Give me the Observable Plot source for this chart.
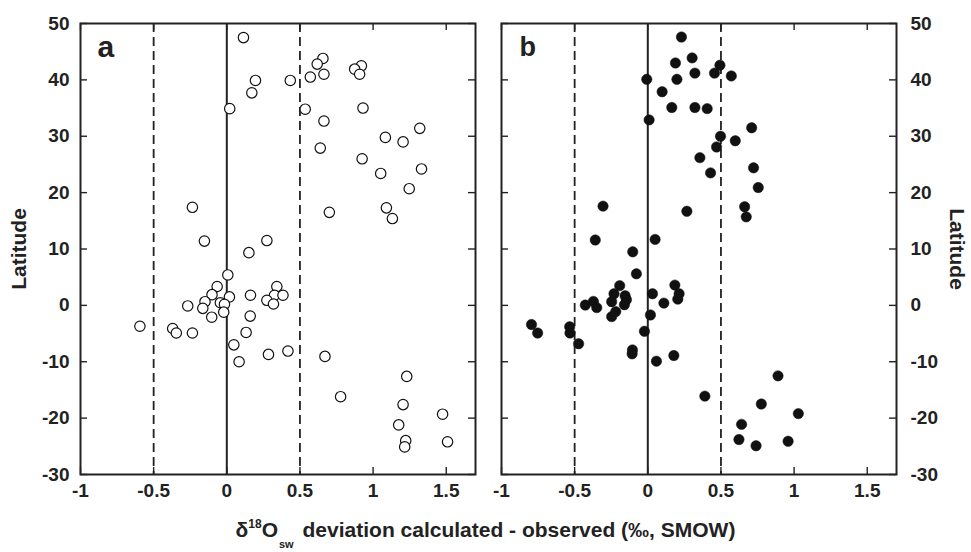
<!DOCTYPE html>
<html>
<head>
<meta charset="utf-8">
<script src="https://cdn.jsdelivr.net/npm/d3@7"></script>
<script src="https://cdn.jsdelivr.net/npm/@observablehq/plot@0.6"></script>
<style>
  body { margin: 0; background: #fff; }
  #wrap { position: relative; width: 971px; height: 552px; font-family: "Liberation Sans", Arial, sans-serif; color: #222; overflow: hidden; }
  #pa { position: absolute; left: 0; top: 0; }
  #pb { position: absolute; left: 485px; top: 0; }
  #xt { position: absolute; left: 0; width: 971px; top: 518px; text-align: center; font-weight: bold; font-size: 21px; line-height: 24px; white-space: nowrap; }
  #xt sup { font-size: 12px; vertical-align: 9px; line-height: 0; }
  #xt sub { font-size: 11px; vertical-align: -11px; line-height: 0; margin-left: 1px; margin-right: 3px; }
</style>
</head>
<body>
<div id="wrap">
  <div id="pa"></div>
  <div id="pb"></div>
  <div id="xt">δ<sup>18</sup>O<sub>sw</sub> deviation calculated - observed (‰, SMOW)</div>
</div>
<script>
// Tick values
const xTicks = [-1, -0.5, 0, 0.5, 1, 1.5];
const yTicks = [-30, -20, -10, 0, 10, 20, 30, 40, 50];
const refSolid = [0];
const refDashed = [-0.5, 0.5];

// Panel a (open circles): deviation (‰) and latitude
const aX = [0.114, 0.657, 0.618, 0.92, 0.874, 0.908, 0.664, 0.571, 0.196, 0.434,
  0.171, 0.02, 0.536, 0.931, 0.664, 1.319, 1.084, 1.205, 0.639, 0.925,
  1.331, 1.052, 1.247, 1.091, 0.701, 1.132, -0.235, -0.153, 0.274, 0.151,
  0.007, -0.066, 0.342, -0.101, 0.018, 0.162, 0.326, 0.384, 0.274, 0.319,
  -0.149, -0.044, -0.016, -0.267, -0.164, -0.021, -0.103, 0.16, -0.594, -0.37,
  -0.345, -0.235, 0.132, 0.048, 0.084, 0.285, 0.418, 0.671, 1.23, 0.778,
  1.205, 1.475, 1.175, 1.223, 1.509, 1.216];
const aY = [47.5, 43.8, 42.8, 42.5, 41.9, 41.0, 41.0, 40.5, 39.9, 39.9,
  37.7, 34.9, 34.8, 35.0, 32.7, 31.4, 29.8, 29.0, 27.9, 26.0,
  24.2, 23.4, 20.7, 17.3, 16.5, 15.4, 17.4, 11.4, 11.5, 9.35,
  5.4, 3.35, 3.35, 1.9, 1.5, 1.8, 1.8, 1.8, 0.9, 0.24,
  0.65, 0.47, 0.18, -0.1, -0.53, -1.2, -2.1, -1.9, -3.7, -4.1,
  -4.9, -4.9, -4.8, -7.0, -10.0, -8.7, -8.1, -9.05, -12.6, -16.2,
  -17.6, -19.3, -21.2, -24.0, -24.2, -25.1];

// Panel b (filled circles)
const bX = [0.23, 0.303, 0.189, 0.493, 0.322, 0.456, 0.571, -0.007, 0.199, 0.098,
  0.164, 0.322, 0.406, 0.009, 0.71, 0.497, 0.598, 0.47, 0.356, 0.723,
  0.429, 0.755, -0.306, 0.267, 0.662, 0.673, -0.359, 0.05, -0.103, -0.078,
  -0.192, 0.185, -0.231, -0.155, 0.032, 0.214, 0.205, -0.146, -0.372, -0.247,
  0.11, -0.427, -0.16, -0.349, -0.219, 0.018, -0.247, -0.795, -0.753, -0.534,
  -0.532, -0.473, -0.023, -0.105, -0.107, 0.059, 0.178, 0.89, 0.39, 0.776,
  1.029, 0.641, 0.623, 0.959, 0.74];
const bY = [47.6, 43.9, 43.0, 42.6, 41.2, 41.2, 40.7, 40.1, 40.1, 37.9,
  35.1, 35.1, 34.9, 32.9, 31.5, 30.0, 29.2, 28.1, 26.2, 24.4,
  23.5, 20.9, 17.6, 16.7, 17.5, 15.7, 11.6, 11.7, 9.5, 5.6,
  3.5, 3.6, 2.06, 1.7, 2.06, 2.06, 1.1, 1.0, 0.7, 0.65,
  0.4, 0.06, 0.12, -0.4, -1.1, -1.7, -2.0, -3.4, -4.9, -3.8,
  -4.9, -6.8, -4.6, -7.9, -8.6, -9.9, -8.9, -12.5, -16.1, -17.5,
  -19.2, -21.1, -23.8, -24.1, -24.9];

const INK = "#222";
const H = 500, MT = 23, MB = 26;
const font = { fontFamily: "'Liberation Sans', Arial, sans-serif", fontSize: "19px", fontWeight: "bold", background: "transparent", overflow: "visible", color: INK };

function panel({ xs, ys, filled, width, mL, mR, side, letter, letterSize, letterDx, letterDy, latDx }) {
  const pw = width - mL - mR, ph = H - MT - MB, tl = 7;
  const pts = xs.map((x, i) => ({ x, y: ys[i] }));
  return Plot.plot({
    width, height: H, marginLeft: mL, marginRight: mR, marginTop: MT, marginBottom: MB,
    style: font,
    x: { domain: [-1, 1.7] },
    y: { domain: [-30, 50] },
    marks: [
      Plot.ruleX(refDashed, { x: d => d, stroke: INK, strokeWidth: 1.8, strokeDasharray: "9,5" }),
      Plot.ruleX(refSolid, { x: d => d, stroke: INK, strokeWidth: 2 }),
      // inward ticks
      Plot.tickY(yTicks, { y: d => d, insetRight: pw - tl, stroke: INK, strokeWidth: 1.4 }),
      Plot.tickY(yTicks, { y: d => d, insetLeft: pw - tl, stroke: INK, strokeWidth: 1.4 }),
      Plot.tickX(xTicks, { x: d => d, insetBottom: ph - tl, stroke: INK, strokeWidth: 1.4 }),
      Plot.tickX(xTicks, { x: d => d, insetTop: ph - tl, stroke: INK, strokeWidth: 1.4 }),
      Plot.frame({ stroke: INK, strokeWidth: 2 }),
      Plot.axisX({ ticks: xTicks, tickSize: 0, tickPadding: 9, label: null, tickFormat: d => String(d), fill: INK }),
      Plot.axisY({ anchor: side, ticks: yTicks, tickSize: 0, tickPadding: side === "left" ? 11 : 14, label: null, tickFormat: d => String(d), fill: INK }),
      Plot.dot(pts, filled
        ? { x: "x", y: "y", r: 5.2, fill: "#111", stroke: "#111", strokeWidth: 0.5 }
        : { x: "x", y: "y", r: 5.2, fill: "white", stroke: "#111", strokeWidth: 1.2 }),
      Plot.text([letter], { text: d => d, frameAnchor: "top-left", textAnchor: "start", lineAnchor: "bottom", dx: letterDx, dy: letterDy, fontSize: letterSize, fontWeight: "bold", fill: INK }),
      Plot.text(["Latitude"], { text: d => d, frameAnchor: side, textAnchor: "middle", lineAnchor: "middle", dx: latDx, rotate: side === "left" ? -90 : 90, fontSize: 21, fontWeight: "bold", fill: INK })
    ]
  });
}

document.getElementById("pa").appendChild(panel({
  xs: aX, ys: aY, filled: false, width: 485, mL: 80, mR: 10, side: "left",
  letter: "a", letterSize: 30, letterDx: 17, letterDy: 33, latDx: -61
}));
document.getElementById("pb").appendChild(panel({
  xs: bX, ys: bY, filled: true, width: 486, mL: 16, mR: 75, side: "right",
  letter: "b", letterSize: 27, letterDx: 18, letterDy: 32, latDx: 60
}));
</script>
</body>
</html>
